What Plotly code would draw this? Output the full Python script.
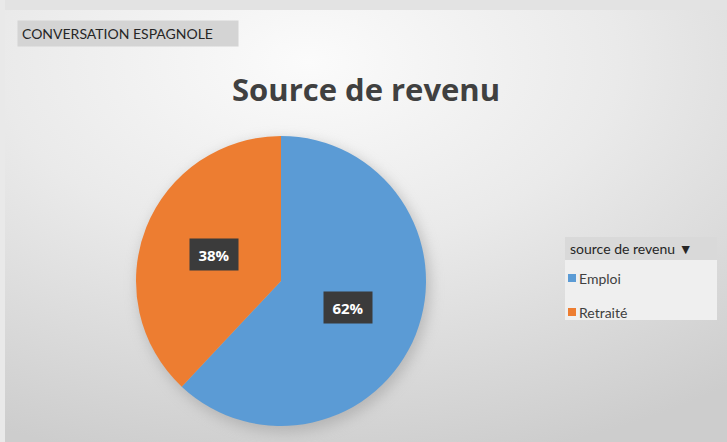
import base64
import math
import plotly.graph_objects as go

# ---------- données ----------
labels = ["Emploi", "Retraité"]
values = [62, 38]
colors = ["#5B9BD5", "#ED7D31"]

titre = "Source de revenu"
etiquette = "CONVERSATION ESPAGNOLE"
titre_legende = "source de revenu ▼"

W, H = 727, 442
CX, CY, R = 281, 281, 145  # centre et rayon du camembert (px)


def px2paper(x, y):
    return x / W, 1 - y / H


# ---------- fond dégradé (svg) ----------
svg = f"""<svg xmlns='http://www.w3.org/2000/svg' width='{W}' height='{H}'>
<defs>
<radialGradient id='g' cx='0.42' cy='0.12' r='0.95' gradientUnits='objectBoundingBox'>
<stop offset='0' stop-color='#fbfbfb'/>
<stop offset='0.45' stop-color='#eaeaea'/>
<stop offset='1' stop-color='#cdcdcd'/>
</radialGradient>
<filter id='f' x='-20%' y='-20%' width='140%' height='140%'><feGaussianBlur stdDeviation='7'/></filter>
</defs>
<rect width='{W}' height='{H}' fill='#e3e3e3'/>
<rect x='0' y='0' width='5' height='{H}' fill='#e9e9e9'/>
<rect x='5' y='10' width='{W-5}' height='{H-10}' fill='url(#g)'/>
<circle cx='{CX+3}' cy='{CY+5}' r='{R+1}' fill='#9a9a9a' opacity='0.55' filter='url(#f)'/>
</svg>"""
fond = "data:image/svg+xml;base64," + base64.b64encode(svg.encode()).decode()

fig = go.Figure()

fig.add_trace(go.Pie(
    labels=labels,
    values=values,
    marker=dict(colors=colors, line=dict(width=0)),
    sort=False,
    direction="clockwise",
    rotation=0,
    textinfo="none",
    hoverinfo="label+percent",
    showlegend=False,
    domain=dict(
        x=[(CX - R) / W, (CX + R) / W],
        y=[(H - CY - R) / H, (H - CY + R) / H],
    ),
))

# ---------- étiquettes de pourcentage ----------
total = sum(values)
cumul = 0
for v in values:
    mid = (cumul + v / 2) / total * 2 * math.pi
    cumul += v
    x, y = px2paper(CX + 0.5 * R * math.sin(mid), CY - 0.5 * R * math.cos(mid))
    fig.add_annotation(
        x=x, y=y, xref="paper", yref="paper",
        xanchor="center", yanchor="middle",
        text=f"<b>{round(v / total * 100)}%</b>",
        showarrow=False,
        font=dict(family="Open Sans", size=15, color="white"),
        bgcolor="#3b3b3b", borderpad=6, width=36, height=19,
    )

# ---------- titre et étiquette ----------
x, y = px2paper(366, 89)
fig.add_annotation(
    x=x, y=y, xref="paper", yref="paper",
    xanchor="center", yanchor="middle",
    text=f"<b>{titre}</b>", showarrow=False,
    font=dict(family="Open Sans", size=31, color="#404040"),
)
x, y = px2paper(17, 34)
fig.add_annotation(
    x=x, y=y, xref="paper", yref="paper",
    xanchor="left", yanchor="middle", text=etiquette, showarrow=False,
    font=dict(family="Lato", size=14, color="#262626"),
    bgcolor="#d4d4d4", borderpad=4, width=212, align="left",
)

# ---------- légende ----------
LX0, LX1 = 565, 717
fig.add_shape(type="rect", xref="paper", yref="paper",
              x0=LX0 / W, x1=LX1 / W, y0=1 - 320 / H, y1=1 - 260 / H,
              fillcolor="#efefef", line=dict(width=0), layer="below")
fig.add_shape(type="rect", xref="paper", yref="paper",
              x0=LX0 / W, x1=LX1 / W, y0=1 - 260 / H, y1=1 - 237 / H,
              fillcolor="#d9d9d9", line=dict(width=0), layer="below")
x, y = px2paper(LX0 + 3, 248.5)
fig.add_annotation(
    x=x, y=y, xref="paper", yref="paper",
    xanchor="left", yanchor="middle", text=titre_legende, showarrow=False,
    font=dict(family="Lato", size=14, color="#262626"),
)
for i, (lab, col) in enumerate(zip(labels, colors)):
    yc = 278 + i * 34
    fig.add_shape(type="rect", xref="paper", yref="paper",
                  x0=568 / W, x1=576 / W, y0=1 - (yc + 4) / H, y1=1 - (yc - 4) / H,
                  fillcolor=col, line=dict(width=0))
    x, y = px2paper(577, yc)
    fig.add_annotation(
        x=x, y=y, xref="paper", yref="paper",
        xanchor="left", yanchor="middle", text=lab, showarrow=False,
        font=dict(family="Lato", size=14, color="#404040"),
    )

fig.update_layout(
    width=W, height=H,
    margin=dict(l=0, r=0, t=0, b=0),
    paper_bgcolor="#e3e3e3",
    plot_bgcolor="rgba(0,0,0,0)",
    images=[dict(source=fond, xref="paper", yref="paper", x=0, y=1,
                 sizex=1, sizey=1, sizing="stretch", layer="below",
                 xanchor="left", yanchor="top")],
)

# la page html a une marge de 8px par défaut : on la retire
fig.write_html(
    "out.html",
    config={"displayModeBar": False},
    post_script="document.body.style.margin='0';",
)
